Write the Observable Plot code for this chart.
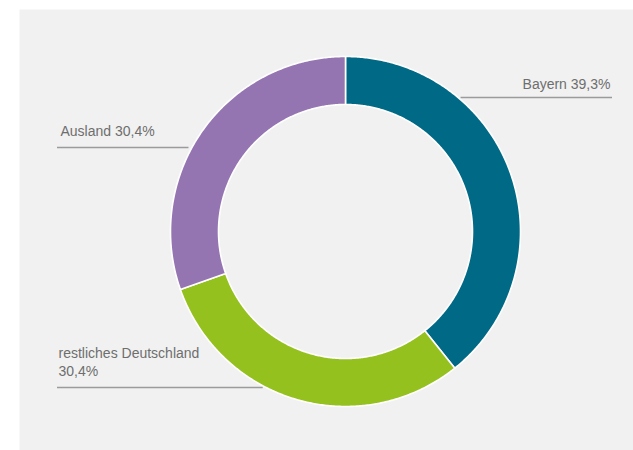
<!DOCTYPE html>
<html>
<head>
<meta charset="utf-8">
<script src="https://cdn.jsdelivr.net/npm/d3@7"></script>
<script src="https://cdn.jsdelivr.net/npm/@observablehq/plot@0.6"></script>
<style>
  html, body { margin: 0; padding: 0; background: #ffffff; }
  #chart svg { display: block; }
</style>
</head>
<body>
<div id="chart"></div>
<script>
// ---- data ----
const categories = ["Bayern", "restliches Deutschland", "Ausland"];
const shares = [39.3, 30.4, 30.4];
const labels = ["Bayern 39,3%", "restliches Deutschland\n30,4%", "Ausland 30,4%"];
const colors = ["#006a86", "#95c11f", "#9574b2"];

// ---- layout (pixels relative to donut centre, y up) ----
const W = 633, H = 450;
const panel = {left: 19, top: 9};
const centre = {x: 345, y: 231};
const R_OUT = 175, R_IN = 127;
// leader line height, side, far end x, text x, text baseline
const labelLayout = [
  {lineY: 231 - 97,  side: 1,  farX: 612 - 345, textX: 610 - 345, textY: 231 - 88,  anchor: "end"},
  {lineY: 231 - 387, side: -1, farX: 57 - 345,  textX: 58 - 345,  textY: 231 - 375, anchor: "start"},
  {lineY: 231 - 147, side: -1, farX: 57 - 345,  textX: 60 - 345,  textY: 231 - 135, anchor: "start"}
];

// ---- build slice polygons from shares ----
const total = d3.sum(shares);
const polys = [];
let acc = 0;
categories.forEach((cat, i) => {
  const a0 = acc / total * 2 * Math.PI;
  acc += shares[i];
  const a1 = acc / total * 2 * Math.PI;
  const n = Math.max(2, Math.ceil((a1 - a0) / (Math.PI / 360)));
  for (let k = 0; k <= n; k++) {
    const a = a0 + (a1 - a0) * k / n;
    polys.push({cat, x: R_OUT * Math.sin(a), y: R_OUT * Math.cos(a)});
  }
  for (let k = n; k >= 0; k--) {
    const a = a0 + (a1 - a0) * k / n;
    polys.push({cat, x: R_IN * Math.sin(a), y: R_IN * Math.cos(a)});
  }
});

const leaders = categories.map((cat, i) => {
  const L = labelLayout[i];
  const edge = L.side * (Math.sqrt(R_OUT * R_OUT - L.lineY * L.lineY) + 3);
  return {cat, x1: edge, x2: L.farX, y: L.lineY};
});
const texts = categories.map((cat, i) => ({
  cat, label: labels[i], x: labelLayout[i].textX, y: labelLayout[i].textY, anchor: labelLayout[i].anchor
}));

const chart = Plot.plot({
  width: W,
  height: H,
  marginLeft: panel.left,
  marginTop: panel.top,
  marginRight: 0,
  marginBottom: 0,
  style: {fontFamily: "'Liberation Sans', Arial, sans-serif", background: "#ffffff"},
  x: {domain: [panel.left - centre.x, W - centre.x], axis: null},
  y: {domain: [centre.y - H, centre.y - panel.top], axis: null},
  color: {domain: categories, range: colors},
  marks: [
    Plot.frame({fill: "#f1f1f1", stroke: null}),
    Plot.line(polys, {x: "x", y: "y", z: "cat", fill: "cat", stroke: "white", strokeWidth: 1.6, curve: "linear-closed"}),
    Plot.ruleY(leaders, {y: "y", x1: "x1", x2: "x2", stroke: "#9b9b9b", strokeWidth: 1.5}),
    Plot.text(texts.filter(d => d.anchor === "end"), {x: "x", y: "y", text: "label", textAnchor: "end", lineAnchor: "bottom", fontSize: 14, fill: "#6e6e6e", lineHeight: 1.22}),
    Plot.text(texts.filter(d => d.anchor === "start"), {x: "x", y: "y", text: "label", textAnchor: "start", lineAnchor: "bottom", fontSize: 14, fill: "#6e6e6e", lineHeight: 1.22})
  ]
});
document.getElementById("chart").appendChild(chart);
</script>
</body>
</html>
